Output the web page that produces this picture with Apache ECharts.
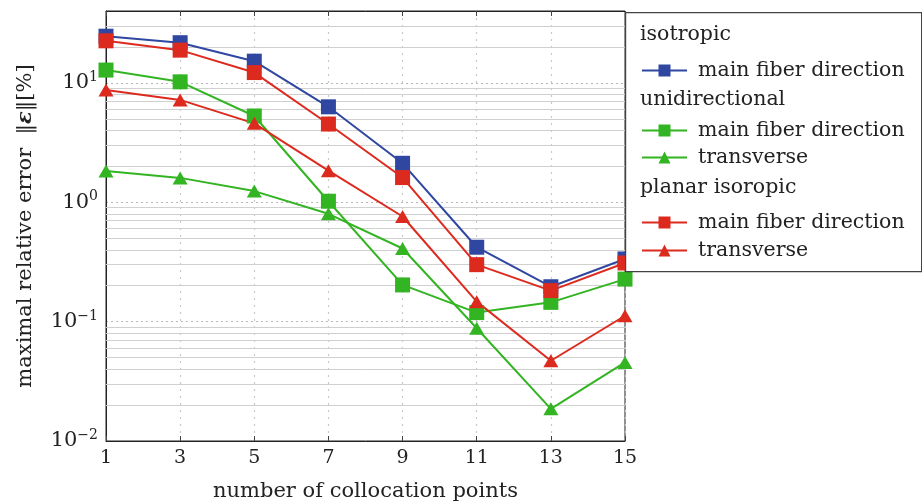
<!DOCTYPE html>
<html>
<head>
<meta charset="utf-8">
<script src="https://cdn.jsdelivr.net/npm/echarts@6/dist/echarts.min.js"></script>
<style>
html,body{margin:0;padding:0;background:#fff;}
#chart{width:922px;height:503px;}
</style>
</head>
<body>
<div id="chart"></div>
<script>
// ---- data ----
var categories = ['1', '3', '5', '7', '9', '11', '13', '15'];
var isoMain    = [24.6, 21.7, 15.2, 6.3, 2.12, 0.42, 0.196, 0.335];
var uniMain    = [12.8, 10.2, 5.28, 1.02, 0.203, 0.119, 0.145, 0.227];
var uniTrans   = [1.83, 1.60, 1.24, 0.80, 0.41, 0.088, 0.0186, 0.0455];
var planMain   = [22.5, 18.8, 12.2, 4.52, 1.61, 0.30, 0.182, 0.31];
var planTrans  = [8.7, 7.2, 4.58, 1.84, 0.76, 0.147, 0.047, 0.112];
var legendHeaders = ['isotropic', 'unidirectional', 'planar isoropic'];
var itemLabel = 'main fiber direction';
var transLabel = 'transverse';
var yMin = 0.01, yMax = 40;
var decades = [0.01, 0.1, 1, 10];
var minorMultipliers = [2, 3, 4, 5, 6, 7, 8, 9];

var BLUE = '#2f47a0', RED = '#dd2a1e', GREEN = '#33b422';
var FONT = 'DejaVu Serif';

var minorVals = [];
decades.forEach(function (d) {
  minorMultipliers.forEach(function (m) {
    var v = d * m;
    if (v < yMax) minorVals.push(v);
  });
});

var chart = echarts.init(document.getElementById('chart'), null, {renderer: 'canvas'});

function mkSeries(name, data, color, symbol, size) {
  return {
    name: name,
    type: 'line',
    data: data,
    symbol: symbol,
    symbolSize: size,
    lineStyle: {color: color, width: 2},
    itemStyle: {color: color},
    z: 5,
    animation: false
  };
}

var names = {
  'iso-main': itemLabel,
  'uni-main': itemLabel,
  'uni-trans': transLabel,
  'plan-main': itemLabel,
  'plan-trans': transLabel
};

var legendBase = {
  orient: 'vertical',
  left: 641,
  padding: 0,
  itemWidth: 45,
  itemHeight: 15,
  selectedMode: false,
  formatter: function (n) { return names[n]; },
  textStyle: {fontFamily: FONT, fontSize: 20.5, color: '#222', padding: [0, 0, 0, 6]},
  z: 20
};

function legendAt(top, data, gap) {
  return Object.assign({}, legendBase, {top: top, data: data, itemGap: gap});
}

var option = {
  animation: false,
  grid: {left: 106, right: 297, top: 11, bottom: 62, show: true, borderColor: '#222', borderWidth: 1, backgroundColor: '#fff', containLabel: false, outerBoundsMode: 'none'},
  xAxis: [{
    type: 'category',
    data: categories,
    boundaryGap: false,
    name: 'number of collocation points',
    nameLocation: 'middle',
    nameGap: 40,
    nameTextStyle: {fontFamily: FONT, fontSize: 21, color: '#222'},
    axisLine: {lineStyle: {color: '#222', width: 1}},
    axisTick: {inside: true, length: 5, alignWithLabel: true, lineStyle: {color: '#444'}},
    axisLabel: {fontFamily: FONT, fontSize: 19, color: '#222', margin: 8},
    splitLine: {show: true, lineStyle: {color: '#c8c8c8', type: [2, 5], width: 1.2}}
  }, {
    type: 'category',
    data: categories,
    boundaryGap: false,
    position: 'top',
    axisLine: {lineStyle: {color: '#222', width: 1}},
    axisTick: {inside: true, length: 5, alignWithLabel: true, lineStyle: {color: '#444'}},
    axisLabel: {show: false},
    splitLine: {show: false}
  }],
  yAxis: {
    type: 'log',
    logBase: 10,
    min: yMin,
    max: yMax,
    name: 'maximal relative error  ‖{e|ε}‖[%]',
    nameLocation: 'middle',
    nameGap: 70,
    nameTextStyle: {fontFamily: FONT, fontSize: 21, color: '#222', rich: {e: {fontFamily: FONT, fontSize: 21, fontWeight: 'bold', fontStyle: 'italic', color: '#222'}}},
    axisLine: {show: true, lineStyle: {color: '#222', width: 1}},
    axisTick: {inside: true, length: 5, lineStyle: {color: '#444'}},
    axisLabel: {
      showMaxLabel: false,
      margin: 8,
      formatter: function (v) {
        var e = Math.round(Math.log10(v));
        return '{b|10}{s|' + String(e).replace('-', '−') + '}';
      },
      rich: {
        b: {fontFamily: FONT, fontSize: 21, color: '#222'},
        s: {fontFamily: FONT, fontSize: 14, color: '#222', padding: [0, 0, 11, 0]}
      }
    },
    splitLine: {show: true, lineStyle: {color: '#b8b8b8', type: [2, 3], width: 1.2}}
  },
  legend: [
    legendAt(60, ['iso-main'], 7),
    legendAt(120, ['uni-main', 'uni-trans'], 6),
    legendAt(212, ['plan-main', 'plan-trans'], 7)
  ],
  graphic: [
    {type: 'rect', left: 625, top: 12, shape: {width: 296, height: 259}, style: {fill: '#fff', stroke: '#444', lineWidth: 1.2}, z: 10},
    {type: 'text', left: 640, top: 24, style: {text: legendHeaders[0], font: '20.5px "DejaVu Serif"', fill: '#222'}, z: 21},
    {type: 'text', left: 640, top: 89, style: {text: legendHeaders[1], font: '20.5px "DejaVu Serif"', fill: '#222'}, z: 21},
    {type: 'text', left: 640, top: 177, style: {text: legendHeaders[2], font: '20.5px "DejaVu Serif"', fill: '#222'}, z: 21}
  ],
  series: [
    {
      name: 'minor-grid', type: 'line', data: [], silent: true, z: 1,
      markLine: {
        silent: true, symbol: ['none', 'none'], label: {show: false},
        lineStyle: {color: '#d0d0d0', type: 'solid', width: 1},
        data: minorVals.map(function (v) { return {yAxis: v}; }),
        animation: false
      }
    },
    mkSeries('iso-main', isoMain, BLUE, 'rect', 15),
    mkSeries('uni-main', uniMain, GREEN, 'rect', 15),
    mkSeries('uni-trans', uniTrans, GREEN, 'triangle', [15, 13]),
    mkSeries('plan-main', planMain, RED, 'rect', 15),
    mkSeries('plan-trans', planTrans, RED, 'triangle', [15, 13])
  ]
};
chart.setOption(option);
</script>
</body>
</html>
